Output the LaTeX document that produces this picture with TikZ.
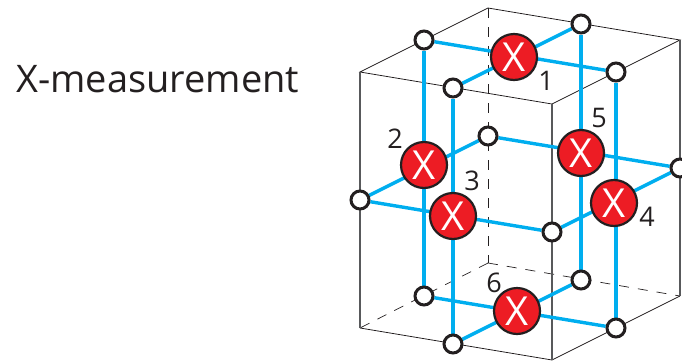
\documentclass[tikz,border=0pt]{standalone}
\usepackage{fontspec}
\setmainfont{Open Sans}
\usetikzlibrary{backgrounds}
\definecolor{qblue}{HTML}{00AEEF}
\definecolor{qred}{HTML}{ED1C24}
\definecolor{qink}{HTML}{231F20}
\definecolor{qgray}{HTML}{58595B}
\tikzset{
  qubit/.style={circle,draw=qink,fill=white,line width=3pt,minimum size=18pt,inner sep=0pt},
  xcheck/.style={circle,draw=qink,fill=qred,line width=2.2pt,minimum size=46pt,inner sep=0pt,text=white,font=\fontsize{40}{40}\selectfont},
  bond/.style={draw=qblue,line width=3.4pt},
  edgethin/.style={draw=qink,line width=0.8pt},
  edgepost/.style={draw=qgray,line width=1.3pt},
  edgehidden/.style={draw=qink,line width=0.7pt,dash pattern=on 10pt off 9pt},
  lab/.style={text=qink,inner sep=0pt,font=\fontsize{27}{27}\selectfont},
}
\begin{document}
\begin{tikzpicture}[x=1pt,y=-1pt]
\useasboundingbox (0,0) rectangle (682,362);
\clip (0,0) rectangle (682,362);
\coordinate (tb) at (488,8);
\coordinate (tl) at (360,72);
\coordinate (tf) at (552,104);
\coordinate (tr) at (680,40);
\coordinate (bb) at (488,263);
\coordinate (bl) at (360,328);
\coordinate (bf) at (552,360);
\coordinate (br) at (680,296);
\node[qubit] (a) at (424,40) {};
\node[qubit] (b) at (581,24) {};
\node[qubit] (c) at (453,88) {};
\node[qubit] (d) at (616,72) {};
\node[qubit] (e) at (488,136) {};
\node[qubit] (f) at (680,168) {};
\node[qubit] (g) at (360,200) {};
\node[qubit] (h) at (552,232) {};
\node[qubit] (i) at (424,296) {};
\node[qubit] (j) at (581,280) {};
\node[qubit] (k) at (453,344) {};
\node[qubit] (l) at (616,328) {};
\node[xcheck] (x1) at (514,57) {X};
\node[xcheck] (x2) at (424,165) {X};
\node[xcheck] (x3) at (453,216) {X};
\node[xcheck] (x4) at (614,203) {X};
\node[xcheck] (x5) at (581,153) {X};
\node[xcheck] (x6) at (517,311) {X};
\begin{scope}[on background layer]
  \draw[edgehidden] (tb) -- (bb);
  \draw[edgehidden] (bb) -- (bl);
  \draw[edgehidden] (bb) -- (br);
  \draw[edgethin] (tl) -- (tb) -- (tr) -- (tf) -- cycle;
  \draw[edgethin] (bl) -- (bf) -- (br);
  \draw[edgepost] (tl) -- (bl);
  \draw[edgepost] (tf) -- (bf);
  \draw[edgepost] (tr) -- (br);
  \draw[bond] (a) -- (d);
  \draw[bond] (b) -- (c);
  \draw[bond] (a) -- (i);
  \draw[bond] (c) -- (k);
  \draw[bond] (b) -- (j);
  \draw[bond] (d) -- (l);
  \draw[bond] (e) -- (g);
  \draw[bond] (e) -- (f);
  \draw[bond] (g) -- (h);
  \draw[bond] (h) -- (f);
  \draw[bond] (i) -- (l);
  \draw[bond] (j) -- (k);
\end{scope}
\node[lab] (n1) at (546,81) {1};
\node[lab] (n2) at (395,139) {2};
\node[lab] (n3) at (472,181) {3};
\node[lab] (n4) at (647,217) {4};
\node[lab] (n5) at (599,118) {5};
\node[lab] (n6) at (494,283) {6};
\node[anchor=west,inner sep=0pt,text=qink,font=\fontsize{38}{38}\selectfont] (title) at (16,79) {X-measurement};
\end{tikzpicture}
\end{document}
